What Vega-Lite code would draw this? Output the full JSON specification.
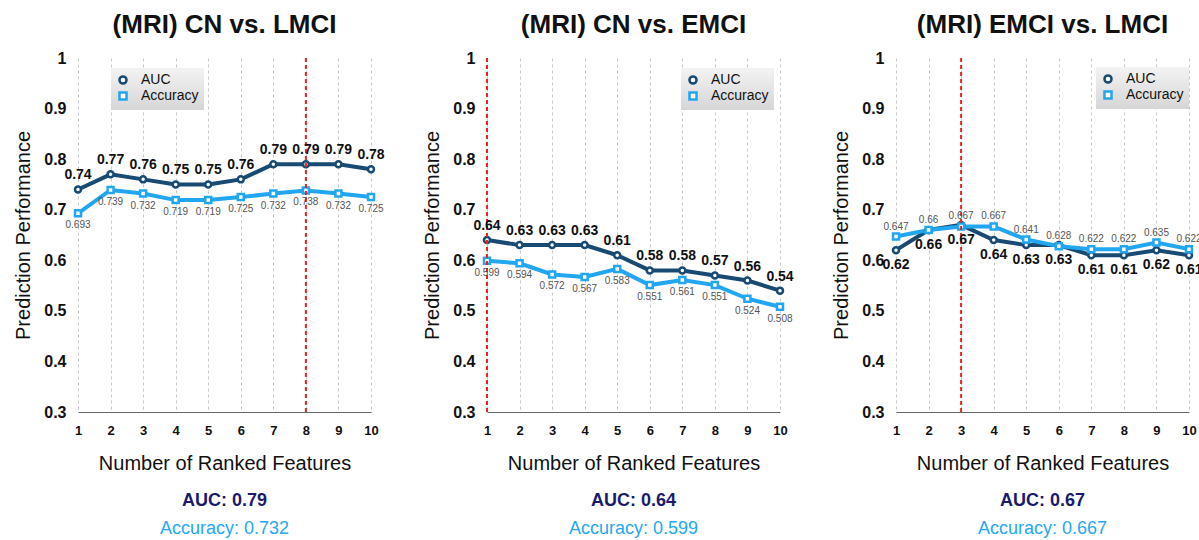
{
  "$schema": "https://vega.github.io/schema/vega-lite/v6.json",
  "padding": {"left": 13, "top": 12, "right": 0, "bottom": 0},
  "config": {
    "font": "Liberation Sans",
    "view": {"stroke": null},
    "title": {"fontSize": 26, "fontWeight": "bold", "color": "#111", "offset": 12},
    "legend": {"title": null, "orient": "none", "labelFontSize": 14, "labelColor": "#111", "symbolSize": 50, "symbolStrokeWidth": 2.5, "symbolFillColor": "white", "rowPadding": -2, "padding": 5, "labelOffset": 11, "fillColor": "#e4e4e4"}
  },
  "datasets": {
    "p1": [
      {"x": 1, "metric": "AUC", "value": 0.74}, {"x": 2, "metric": "AUC", "value": 0.77}, {"x": 3, "metric": "AUC", "value": 0.76}, {"x": 4, "metric": "AUC", "value": 0.75}, {"x": 5, "metric": "AUC", "value": 0.75},
      {"x": 6, "metric": "AUC", "value": 0.76}, {"x": 7, "metric": "AUC", "value": 0.79}, {"x": 8, "metric": "AUC", "value": 0.79}, {"x": 9, "metric": "AUC", "value": 0.79}, {"x": 10, "metric": "AUC", "value": 0.78},
      {"x": 1, "metric": "Accuracy", "value": 0.693}, {"x": 2, "metric": "Accuracy", "value": 0.739}, {"x": 3, "metric": "Accuracy", "value": 0.732}, {"x": 4, "metric": "Accuracy", "value": 0.719}, {"x": 5, "metric": "Accuracy", "value": 0.719},
      {"x": 6, "metric": "Accuracy", "value": 0.725}, {"x": 7, "metric": "Accuracy", "value": 0.732}, {"x": 8, "metric": "Accuracy", "value": 0.738}, {"x": 9, "metric": "Accuracy", "value": 0.732}, {"x": 10, "metric": "Accuracy", "value": 0.725}
    ],
    "p2": [
      {"x": 1, "metric": "AUC", "value": 0.64}, {"x": 2, "metric": "AUC", "value": 0.63}, {"x": 3, "metric": "AUC", "value": 0.63}, {"x": 4, "metric": "AUC", "value": 0.63}, {"x": 5, "metric": "AUC", "value": 0.61},
      {"x": 6, "metric": "AUC", "value": 0.58}, {"x": 7, "metric": "AUC", "value": 0.58}, {"x": 8, "metric": "AUC", "value": 0.57}, {"x": 9, "metric": "AUC", "value": 0.56}, {"x": 10, "metric": "AUC", "value": 0.54},
      {"x": 1, "metric": "Accuracy", "value": 0.599}, {"x": 2, "metric": "Accuracy", "value": 0.594}, {"x": 3, "metric": "Accuracy", "value": 0.572}, {"x": 4, "metric": "Accuracy", "value": 0.567}, {"x": 5, "metric": "Accuracy", "value": 0.583},
      {"x": 6, "metric": "Accuracy", "value": 0.551}, {"x": 7, "metric": "Accuracy", "value": 0.561}, {"x": 8, "metric": "Accuracy", "value": 0.551}, {"x": 9, "metric": "Accuracy", "value": 0.524}, {"x": 10, "metric": "Accuracy", "value": 0.508}
    ],
    "p3": [
      {"x": 1, "metric": "AUC", "value": 0.62}, {"x": 2, "metric": "AUC", "value": 0.66}, {"x": 3, "metric": "AUC", "value": 0.67}, {"x": 4, "metric": "AUC", "value": 0.64}, {"x": 5, "metric": "AUC", "value": 0.63},
      {"x": 6, "metric": "AUC", "value": 0.63}, {"x": 7, "metric": "AUC", "value": 0.61}, {"x": 8, "metric": "AUC", "value": 0.61}, {"x": 9, "metric": "AUC", "value": 0.62}, {"x": 10, "metric": "AUC", "value": 0.61},
      {"x": 1, "metric": "Accuracy", "value": 0.647}, {"x": 2, "metric": "Accuracy", "value": 0.66}, {"x": 3, "metric": "Accuracy", "value": 0.667}, {"x": 4, "metric": "Accuracy", "value": 0.667}, {"x": 5, "metric": "Accuracy", "value": 0.641},
      {"x": 6, "metric": "Accuracy", "value": 0.628}, {"x": 7, "metric": "Accuracy", "value": 0.622}, {"x": 8, "metric": "Accuracy", "value": 0.622}, {"x": 9, "metric": "Accuracy", "value": 0.635}, {"x": 10, "metric": "Accuracy", "value": 0.622}
    ],
    "best": [{"panel": "p1", "x": 8}, {"panel": "p2", "x": 1}, {"panel": "p3", "x": 3}],
    "summary": [
      {"panel": "p1", "k": "AUC", "t": "AUC: 0.79"}, {"panel": "p1", "k": "Accuracy", "t": "Accuracy: 0.732"},
      {"panel": "p2", "k": "AUC", "t": "AUC: 0.64"}, {"panel": "p2", "k": "Accuracy", "t": "Accuracy: 0.599"},
      {"panel": "p3", "k": "AUC", "t": "AUC: 0.67"}, {"panel": "p3", "k": "Accuracy", "t": "Accuracy: 0.667"}
    ]
  },
  "spacing": 37,
  "resolve": {"scale": {"x": "independent", "y": "independent", "color": "independent", "shape": "independent"}, "legend": {"color": "independent", "shape": "independent"}},
  "hconcat": [
    {
      "spacing": 14,
      "resolve": {"scale": {"x": "independent", "y": "independent", "color": "independent", "shape": "independent"}},
      "vconcat": [
        {
          "title": {"text": "(MRI) CN vs. LMCI", "frame": "group", "anchor": "middle"},
          "width": 293, "height": 354,
          "data": {"name": "p1"},
          "encoding": {
            "x": {"field": "x", "type": "quantitative", "scale": {"domain": [1, 10], "nice": false},
                  "axis": {"values": [1,2,3,4,5,6,7,8,9,10], "title": "Number of Ranked Features", "titleFontSize": 20, "titleFontWeight": "normal", "titleColor": "#111", "titlePadding": 16, "labelFontSize": 13, "labelFontWeight": "bold", "labelColor": "#111", "labelPadding": 12, "ticks": false, "domainColor": "#666", "grid": true, "gridDash": [3, 3], "gridColor": "#c8c8c8", "labelFlush": false}}
          },
          "layer": [
            {"mark": {"type": "line", "strokeWidth": 4},
             "encoding": {"y": {"field": "value", "type": "quantitative", "scale": {"domain": [0.3, 1], "nice": false},
                                "axis": {"values": [0.3,0.4,0.5,0.6,0.7,0.8,0.9,1], "format": "~g", "title": "Prediction Performance", "titleFontSize": 20, "titleFontWeight": "normal", "titleColor": "#111", "titlePadding": 10, "labelFontSize": 16, "labelFontWeight": "bold", "labelColor": "#111", "labelPadding": 12, "ticks": false, "domain": false, "grid": false}},
                          "color": {"field": "metric", "type": "nominal", "scale": {"domain": ["AUC", "Accuracy"], "range": ["#184A74", "#22A6F2"]}, "legend": {"legendX": 33, "legendY": 10, "encode": {"legend": {"update": {"fill": {"value": {"gradient": "linear", "x1": 0, "y1": 0, "x2": 0, "y2": 1, "stops": [{"offset": 0, "color": "#f3f3f3"}, {"offset": 1, "color": "#d6d6d6"}]}}}}}}}}},
            {"mark": {"type": "point", "filled": false, "fill": "white", "strokeWidth": 2.5, "size": 36, "opacity": 1},
             "encoding": {"y": {"field": "value", "type": "quantitative"},
                          "color": {"field": "metric", "type": "nominal", "legend": {"legendX": 33, "legendY": 10}},
                          "shape": {"field": "metric", "type": "nominal", "scale": {"domain": ["AUC", "Accuracy"], "range": ["circle", "square"]}, "legend": {"legendX": 33, "legendY": 10}}}},
            {"data": {"name": "best"}, "transform": [{"filter": "datum.panel == 'p1'"}],
             "mark": {"type": "rule", "color": "#E5261E", "strokeWidth": 2, "strokeDash": [4, 3]},
             "encoding": {"x": {"field": "x", "type": "quantitative"}}},
            {"transform": [{"filter": "datum.metric == 'AUC'"}],
             "mark": {"type": "text", "dy": -14, "fontSize": 14, "fontWeight": "bold", "color": "#111"},
             "encoding": {"y": {"field": "value", "type": "quantitative"}, "text": {"field": "value", "type": "nominal"}}},
            {"transform": [{"filter": "datum.metric == 'Accuracy'"}],
             "mark": {"type": "text", "dy": 12, "fontSize": 10, "color": "#555"},
             "encoding": {"y": {"field": "value", "type": "quantitative"}, "text": {"field": "value", "type": "nominal"}}}
          ]
        },
        {
          "width": 293, "height": 56,
          "data": {"name": "summary"},
          "transform": [{"filter": "datum.panel == 'p1'"}],
          "encoding": {"y": {"field": "k", "type": "nominal", "sort": ["AUC", "Accuracy"], "axis": null}, "text": {"field": "t", "type": "nominal"}},
          "layer": [
            {"transform": [{"filter": "datum.k == 'AUC'"}], "mark": {"type": "text", "fontSize": 18, "fontWeight": "bold", "color": "#1B1B6E"}},
            {"transform": [{"filter": "datum.k == 'Accuracy'"}], "mark": {"type": "text", "fontSize": 18, "color": "#24A8F5"}}
          ]
        }
      ]
    },
    {
      "spacing": 14,
      "resolve": {"scale": {"x": "independent", "y": "independent", "color": "independent", "shape": "independent"}},
      "vconcat": [
        {
          "title": {"text": "(MRI) CN vs. EMCI", "frame": "group", "anchor": "middle"},
          "width": 293, "height": 354,
          "data": {"name": "p2"},
          "encoding": {
            "x": {"field": "x", "type": "quantitative", "scale": {"domain": [1, 10], "nice": false},
                  "axis": {"values": [1,2,3,4,5,6,7,8,9,10], "title": "Number of Ranked Features", "titleFontSize": 20, "titleFontWeight": "normal", "titleColor": "#111", "titlePadding": 16, "labelFontSize": 13, "labelFontWeight": "bold", "labelColor": "#111", "labelPadding": 12, "ticks": false, "domainColor": "#666", "grid": true, "gridDash": [3, 3], "gridColor": "#c8c8c8", "labelFlush": false}}
          },
          "layer": [
            {"mark": {"type": "line", "strokeWidth": 4},
             "encoding": {"y": {"field": "value", "type": "quantitative", "scale": {"domain": [0.3, 1], "nice": false},
                                "axis": {"values": [0.3,0.4,0.5,0.6,0.7,0.8,0.9,1], "format": "~g", "title": "Prediction Performance", "titleFontSize": 20, "titleFontWeight": "normal", "titleColor": "#111", "titlePadding": 10, "labelFontSize": 16, "labelFontWeight": "bold", "labelColor": "#111", "labelPadding": 12, "ticks": false, "domain": false, "grid": false}},
                          "color": {"field": "metric", "type": "nominal", "scale": {"domain": ["AUC", "Accuracy"], "range": ["#184A74", "#22A6F2"]}, "legend": {"legendX": 194, "legendY": 10, "encode": {"legend": {"update": {"fill": {"value": {"gradient": "linear", "x1": 0, "y1": 0, "x2": 0, "y2": 1, "stops": [{"offset": 0, "color": "#f3f3f3"}, {"offset": 1, "color": "#d6d6d6"}]}}}}}}}}},
            {"mark": {"type": "point", "filled": false, "fill": "white", "strokeWidth": 2.5, "size": 36, "opacity": 1},
             "encoding": {"y": {"field": "value", "type": "quantitative"},
                          "color": {"field": "metric", "type": "nominal", "legend": {"legendX": 194, "legendY": 10}},
                          "shape": {"field": "metric", "type": "nominal", "scale": {"domain": ["AUC", "Accuracy"], "range": ["circle", "square"]}, "legend": {"legendX": 194, "legendY": 10}}}},
            {"data": {"name": "best"}, "transform": [{"filter": "datum.panel == 'p2'"}],
             "mark": {"type": "rule", "color": "#E5261E", "strokeWidth": 2, "strokeDash": [4, 3]},
             "encoding": {"x": {"field": "x", "type": "quantitative"}}},
            {"transform": [{"filter": "datum.metric == 'AUC'"}],
             "mark": {"type": "text", "dy": -14, "fontSize": 14, "fontWeight": "bold", "color": "#111"},
             "encoding": {"y": {"field": "value", "type": "quantitative"}, "text": {"field": "value", "type": "nominal"}}},
            {"transform": [{"filter": "datum.metric == 'Accuracy'"}],
             "mark": {"type": "text", "dy": 12, "fontSize": 10, "color": "#555"},
             "encoding": {"y": {"field": "value", "type": "quantitative"}, "text": {"field": "value", "type": "nominal"}}}
          ]
        },
        {
          "width": 293, "height": 56,
          "data": {"name": "summary"},
          "transform": [{"filter": "datum.panel == 'p2'"}],
          "encoding": {"y": {"field": "k", "type": "nominal", "sort": ["AUC", "Accuracy"], "axis": null}, "text": {"field": "t", "type": "nominal"}},
          "layer": [
            {"transform": [{"filter": "datum.k == 'AUC'"}], "mark": {"type": "text", "fontSize": 18, "fontWeight": "bold", "color": "#1B1B6E"}},
            {"transform": [{"filter": "datum.k == 'Accuracy'"}], "mark": {"type": "text", "fontSize": 18, "color": "#24A8F5"}}
          ]
        }
      ]
    },
    {
      "spacing": 14,
      "resolve": {"scale": {"x": "independent", "y": "independent", "color": "independent", "shape": "independent"}},
      "vconcat": [
        {
          "title": {"text": "(MRI) EMCI vs. LMCI", "frame": "group", "anchor": "middle"},
          "width": 293, "height": 354,
          "data": {"name": "p3"},
          "encoding": {
            "x": {"field": "x", "type": "quantitative", "scale": {"domain": [1, 10], "nice": false},
                  "axis": {"values": [1,2,3,4,5,6,7,8,9,10], "title": "Number of Ranked Features", "titleFontSize": 20, "titleFontWeight": "normal", "titleColor": "#111", "titlePadding": 16, "labelFontSize": 13, "labelFontWeight": "bold", "labelColor": "#111", "labelPadding": 12, "ticks": false, "domainColor": "#666", "grid": true, "gridDash": [3, 3], "gridColor": "#c8c8c8", "labelFlush": false}}
          },
          "layer": [
            {"mark": {"type": "line", "strokeWidth": 4},
             "encoding": {"y": {"field": "value", "type": "quantitative", "scale": {"domain": [0.3, 1], "nice": false},
                                "axis": {"values": [0.3,0.4,0.5,0.6,0.7,0.8,0.9,1], "format": "~g", "title": "Prediction Performance", "titleFontSize": 20, "titleFontWeight": "normal", "titleColor": "#111", "titlePadding": 10, "labelFontSize": 16, "labelFontWeight": "bold", "labelColor": "#111", "labelPadding": 12, "ticks": false, "domain": false, "grid": false}},
                          "color": {"field": "metric", "type": "nominal", "scale": {"domain": ["AUC", "Accuracy"], "range": ["#184A74", "#22A6F2"]}, "legend": {"legendX": 200, "legendY": 9, "encode": {"legend": {"update": {"fill": {"value": {"gradient": "linear", "x1": 0, "y1": 0, "x2": 0, "y2": 1, "stops": [{"offset": 0, "color": "#f3f3f3"}, {"offset": 1, "color": "#d6d6d6"}]}}}}}}}}},
            {"mark": {"type": "point", "filled": false, "fill": "white", "strokeWidth": 2.5, "size": 36, "opacity": 1},
             "encoding": {"y": {"field": "value", "type": "quantitative"},
                          "color": {"field": "metric", "type": "nominal", "legend": {"legendX": 200, "legendY": 9}},
                          "shape": {"field": "metric", "type": "nominal", "scale": {"domain": ["AUC", "Accuracy"], "range": ["circle", "square"]}, "legend": {"legendX": 200, "legendY": 9}}}},
            {"data": {"name": "best"}, "transform": [{"filter": "datum.panel == 'p3'"}],
             "mark": {"type": "rule", "color": "#E5261E", "strokeWidth": 2, "strokeDash": [4, 3]},
             "encoding": {"x": {"field": "x", "type": "quantitative"}}},
            {"transform": [{"filter": "datum.metric == 'AUC'"}],
             "mark": {"type": "text", "dy": 15, "fontSize": 14, "fontWeight": "bold", "color": "#111"},
             "encoding": {"y": {"field": "value", "type": "quantitative"}, "text": {"field": "value", "type": "nominal"}}},
            {"transform": [{"filter": "datum.metric == 'Accuracy'"}],
             "mark": {"type": "text", "dy": -10, "fontSize": 10, "color": "#555"},
             "encoding": {"y": {"field": "value", "type": "quantitative"}, "text": {"field": "value", "type": "nominal"}}}
          ]
        },
        {
          "width": 293, "height": 56,
          "data": {"name": "summary"},
          "transform": [{"filter": "datum.panel == 'p3'"}],
          "encoding": {"y": {"field": "k", "type": "nominal", "sort": ["AUC", "Accuracy"], "axis": null}, "text": {"field": "t", "type": "nominal"}},
          "layer": [
            {"transform": [{"filter": "datum.k == 'AUC'"}], "mark": {"type": "text", "fontSize": 18, "fontWeight": "bold", "color": "#1B1B6E"}},
            {"transform": [{"filter": "datum.k == 'Accuracy'"}], "mark": {"type": "text", "fontSize": 18, "color": "#24A8F5"}}
          ]
        }
      ]
    }
  ]
}
